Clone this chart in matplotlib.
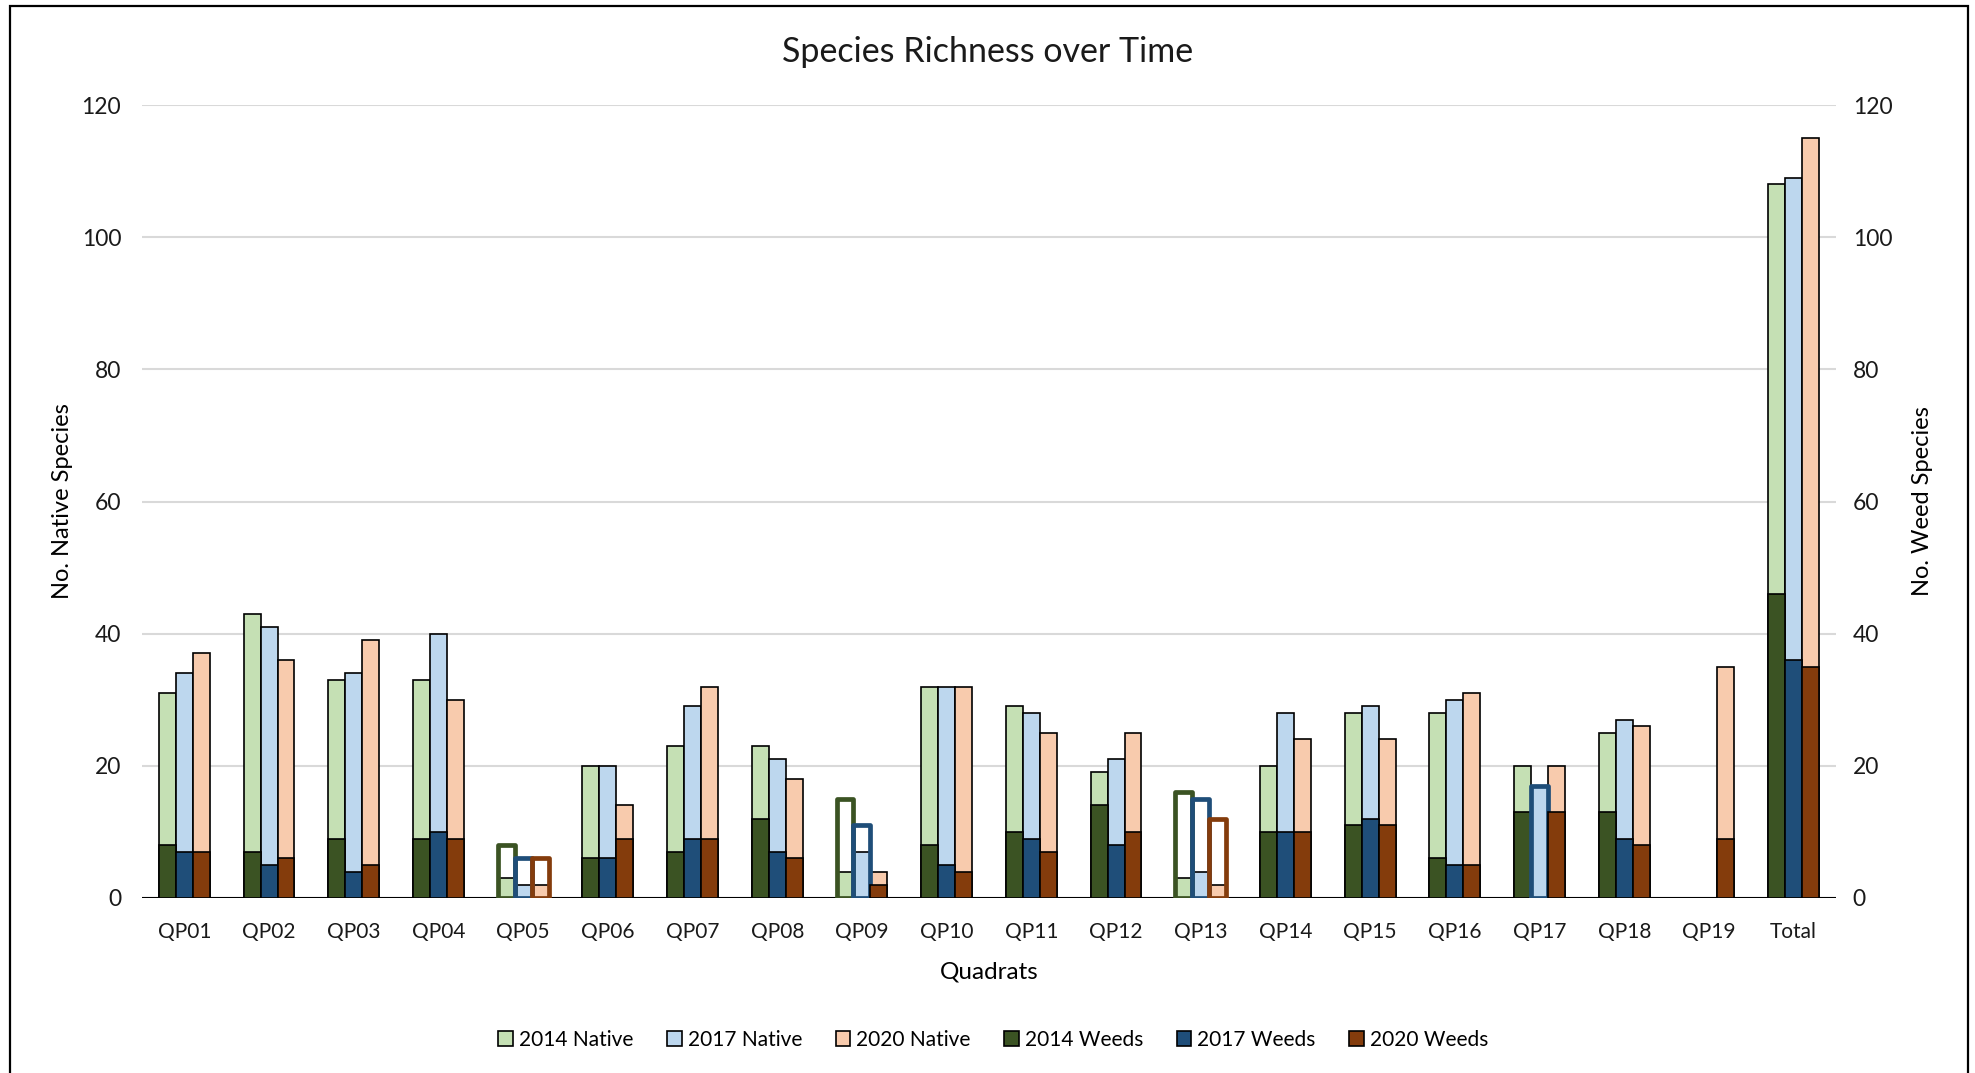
import numpy as np
import matplotlib.pyplot as plt
from matplotlib.patches import Rectangle

plt.rcParams['font.family'] = ['Lato', 'DejaVu Sans']

quadrats = ['QP01', 'QP02', 'QP03', 'QP04', 'QP05', 'QP06', 'QP07', 'QP08', 'QP09', 'QP10',
            'QP11', 'QP12', 'QP13', 'QP14', 'QP15', 'QP16', 'QP17', 'QP18', 'QP19', 'Total']

nan = np.nan
native_2014 = [31, 43, 33, 33, 3, 20, 23, 23, 4, 32, 29, 19, 3, 20, 28, 28, 20, 25, nan, 108]
native_2017 = [34, 41, 34, 40, 2, 20, 29, 21, 7, 32, 28, 21, 4, 28, 29, 30, 17, 27, nan, 109]
native_2020 = [37, 36, 39, 30, 2, 14, 32, 18, 4, 32, 25, 25, 2, 24, 24, 31, 20, 26, 35, 115]
weeds_2014 = [8, 7, 9, 9, 8, 6, 7, 12, 15, 8, 10, 14, 16, 10, 11, 6, 13, 13, nan, 46]
weeds_2017 = [7, 5, 4, 10, 6, 6, 9, 7, 11, 5, 9, 8, 15, 10, 12, 5, 17, 9, nan, 36]
weeds_2020 = [7, 6, 5, 9, 6, 9, 9, 6, 2, 4, 7, 10, 12, 10, 11, 5, 13, 8, 9, 35]

native_cols = ['#C5E0B4', '#BDD7EE', '#F8CBAD']
weed_cols = ['#3B5323', '#1F4E79', '#843C0C']
years = ['2014', '2017', '2020']

fig = plt.figure(figsize=(19.75, 10.73), dpi=100)
ax = fig.add_axes([142 / 1975, 1 - 898 / 1073, (1836 - 142) / 1975, (898 - 105) / 1073])
ax2 = ax.twinx()

x = np.arange(len(quadrats))
w = 0.2
offsets = [-w, 0, w]
natives = [native_2014, native_2017, native_2020]
weeds = [weeds_2014, weeds_2017, weeds_2020]

for i in range(3):
    ax.bar(x + offsets[i], natives[i], w, color=native_cols[i], edgecolor='black',
           linewidth=1.2, label=years[i] + ' Native', zorder=3)

for i in range(3):
    nat = np.array(natives[i], dtype=float)
    wd = np.array(weeds[i], dtype=float)
    # weeds that reach the native count are drawn as outlines so the native bar shows through
    hollow = wd >= nat
    bars = ax2.bar(x + offsets[i], wd, w, color=weed_cols[i], edgecolor='black',
                   linewidth=1.2, label=years[i] + ' Weeds', zorder=3)
    for b, h in zip(bars, hollow):
        if h:
            b.set_facecolor('none')
            b.set_edgecolor(weed_cols[i])
            b.set_linewidth(3.4)
            b.set_joinstyle('round')

for a in (ax, ax2):
    a.set_ylim(0, 120)
    a.set_xlim(-0.5, len(quadrats) - 0.5)
    a.set_yticks(range(0, 121, 20))
    a.tick_params(length=0, labelsize=15, colors='#1a1a1a')
    a.tick_params(axis='y', labelsize=16.5)
    for s in ['top', 'left', 'right', 'bottom']:
        a.spines[s].set_visible(False)

ax.yaxis.grid(True, color='#d9d9d9', linewidth=1.5)
ax.set_axisbelow(True)
ax.axhline(0, color='black', linewidth=1.5, zorder=4)
ax.tick_params(axis='y', pad=15)
ax2.tick_params(axis='y', pad=12)

ax.set_xticks(x)
ax.set_xticklabels(quadrats)
ax.tick_params(axis='x', pad=17)

ax.set_ylabel('No. Native Species', fontsize=17, labelpad=6)
ax2.set_ylabel('No. Weed Species', fontsize=17, labelpad=14)
ax.set_xlabel('Quadrats', fontsize=17.5, labelpad=14)

fig.text(0.5, 1 - 41 * 1.26 / 1073, 'Species Richness over Time', ha='center', va='center',
         fontsize=24.5, color='#1a1a1a')

h1, l1 = ax.get_legend_handles_labels()
h2, l2 = ax2.get_legend_handles_labels()
leg = fig.legend(h1 + h2, l1 + l2, loc='center', bbox_to_anchor=(0.503, 1 - 1040 / 1073),
                 ncol=6, frameon=False, fontsize=15, handlelength=0.7, handleheight=0.7,
                 handletextpad=0.3, columnspacing=1.6)
for p in leg.get_patches():
    p.set_edgecolor('black')
    p.set_linewidth(1.2)
    p.set_joinstyle('miter')

# chart area border
fig.patches.append(Rectangle((10 / 1975, -0.05), (1968 - 10) / 1975, 1.05 - 6 / 1073,
                             transform=fig.transFigure, fill=False, edgecolor='black',
                             linewidth=1.6))

fig.savefig('out.png', dpi=100)
